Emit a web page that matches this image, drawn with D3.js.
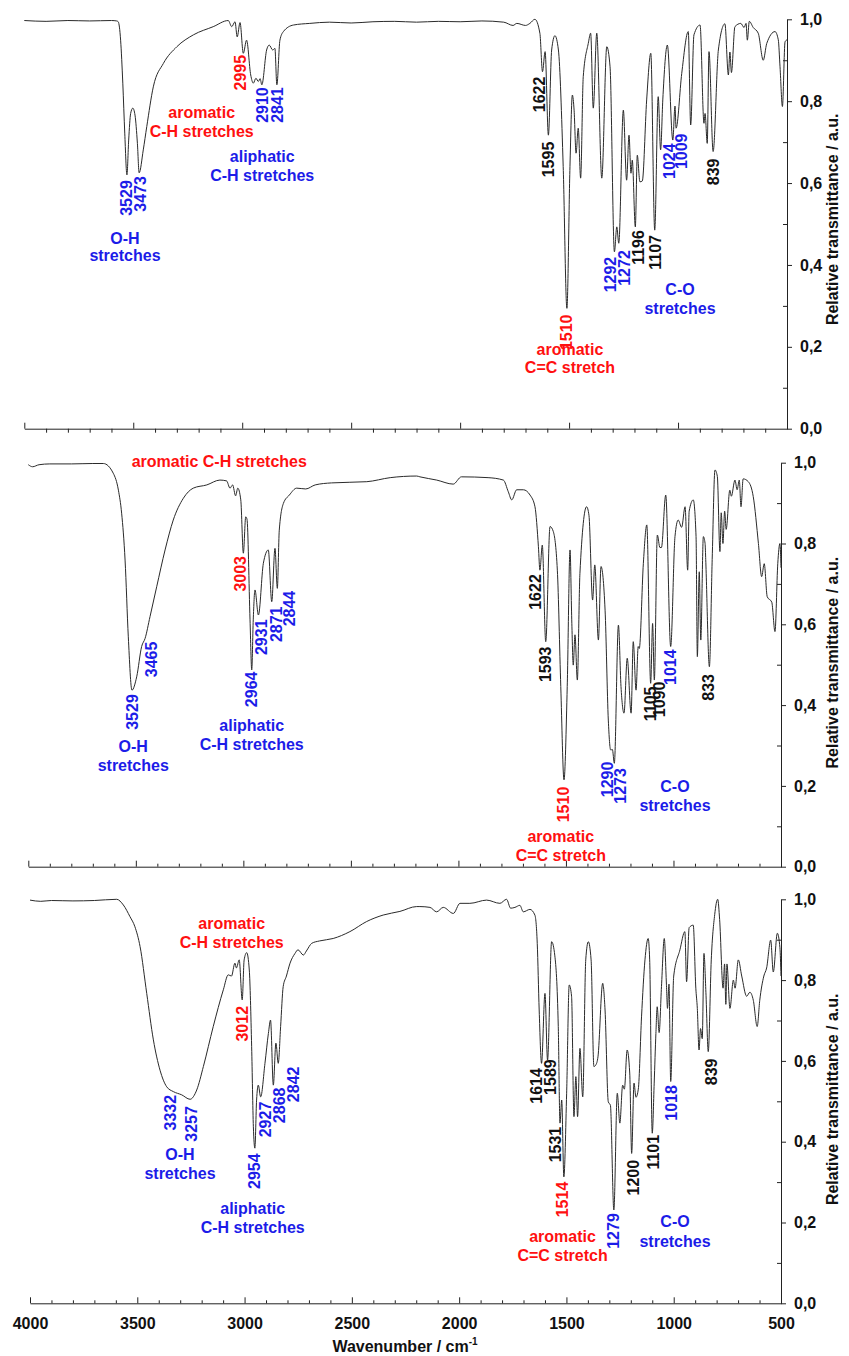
<!DOCTYPE html>
<html>
<head>
<meta charset="utf-8">
<title>IR spectra</title>
<style>
body { margin: 0; background: #fff; }
text { font-family: "Liberation Sans", Arial, sans-serif; font-weight: bold; }
</style>
</head>
<body>
<script src="https://d3js.org/d3.v7.min.js"></script>
<script>
var width = 849, height = 1356;

// spectra: [wavenumber cm-1, relative transmittance]
var spec1 = [
  [4000,0.997],[3900,0.995],[3800,0.997],[3700,0.996],[3600,0.997],[3576,0.996],[3569,0.994],[3558,0.949],
  [3548,0.844],[3539,0.722],[3529,0.620],[3521,0.705],[3512,0.770],[3502,0.783],[3492,0.766],[3481,0.697],
  [3473,0.625],[3454,0.681],[3438,0.738],[3408,0.835],[3362,0.892],[3300,0.933],[3224,0.962],[3133,0.982],
  [3064,0.997],[3048,0.982],[3033,0.994],[3023,0.957],[3010,0.992],[2995,0.917],[2980,0.949],[2961,0.864],
  [2949,0.844],[2937,0.856],[2926,0.848],[2918,0.855],[2910,0.840],[2888,0.925],[2876,0.937],[2860,0.925],
  [2850,0.929],[2841,0.840],[2827,0.949],[2811,0.970],[2765,0.986],[2690,0.990],[2600,0.993],[2500,0.991],
  [2400,0.994],[2300,0.995],[2200,0.993],[2100,0.995],[2000,0.994],[1900,0.996],[1800,0.993],[1757,0.985],
  [1740,0.990],[1700,0.985],[1680,0.990],[1657,1.000],[1634,0.966],[1622,0.872],[1610,0.921],[1595,0.717],
  [1580,0.925],[1565,0.960],[1549,0.925],[1527,0.640],[1510,0.294],[1496,0.640],[1485,0.815],[1477,0.778],
  [1468,0.673],[1458,0.734],[1447,0.612],[1435,0.860],[1412,0.941],[1401,0.966],[1389,0.783],[1373,0.966],
  [1350,0.612],[1327,0.933],[1312,0.884],[1292,0.432],[1281,0.493],[1272,0.453],[1251,0.778],[1236,0.607],
  [1225,0.717],[1216,0.624],[1210,0.656],[1196,0.493],[1187,0.668],[1175,0.603],[1164,0.605],[1144,0.803],
  [1125,0.917],[1107,0.485],[1091,0.811],[1080,0.681],[1070,0.803],[1049,0.937],[1024,0.705],[1014,0.788],
  [1009,0.734],[983,0.868],[953,0.970],[942,0.742],[927,0.962],[899,0.986],[881,0.746],[876,0.770],
  [866,0.697],[858,0.921],[839,0.677],[815,0.925],[785,0.989],[769,0.864],[762,0.920],[755,0.870],
  [739,0.982],[712,0.990],[697,0.980],[688,0.990],[682,0.949],[673,0.995],[655,0.980],[632,0.966],
  [609,0.900],[593,0.941],[555,0.970],[540,0.950],[532,0.884],[521,0.787],[509,0.945],[500,0.950]
];

var spec2 = [
  [4000,0.995],[3980,0.990],[3950,0.995],[3900,0.997],[3800,0.997],[3700,0.998],[3651,0.998],[3605,0.974],
  [3581,0.932],[3566,0.875],[3550,0.759],[3535,0.569],[3518,0.437],[3496,0.470],[3473,0.545],[3457,0.565],
  [3434,0.619],[3403,0.693],[3364,0.784],[3326,0.858],[3279,0.912],[3233,0.937],[3170,0.945],[3109,0.957],
  [3078,0.955],[3062,0.937],[3050,0.945],[3036,0.918],[3026,0.937],[3012,0.908],[3000,0.776],[2989,0.866],
  [2983,0.860],[2969,0.611],[2961,0.487],[2954,0.611],[2946,0.685],[2930,0.623],[2907,0.751],[2884,0.784],
  [2868,0.656],[2853,0.788],[2842,0.689],[2833,0.833],[2814,0.899],[2786,0.920],[2752,0.937],[2710,0.935],
  [2666,0.945],[2590,0.950],[2426,0.953],[2317,0.963],[2194,0.967],[2179,0.965],[2101,0.957],[2024,0.947],
  [1986,0.965],[1862,0.963],[1791,0.957],[1768,0.928],[1752,0.908],[1729,0.933],[1698,0.933],[1667,0.920],
  [1644,0.891],[1628,0.792],[1621,0.734],[1610,0.796],[1594,0.557],[1574,0.842],[1559,0.830],[1540,0.734],
  [1524,0.446],[1509,0.215],[1494,0.446],[1481,0.784],[1473,0.611],[1466,0.499],[1458,0.574],[1447,0.462],
  [1435,0.726],[1404,0.891],[1393,0.870],[1376,0.660],[1366,0.747],[1349,0.561],[1337,0.743],[1318,0.635],
  [1303,0.363],[1292,0.289],[1284,0.290],[1275,0.256],[1256,0.598],[1244,0.446],[1230,0.380],[1215,0.516],
  [1197,0.380],[1187,0.557],[1174,0.437],[1164,0.545],[1159,0.540],[1140,0.751],[1124,0.846],[1106,0.454],
  [1097,0.602],[1089,0.462],[1075,0.821],[1063,0.790],[1056,0.790],[1036,0.920],[1013,0.545],[993,0.817],
  [978,0.858],[962,0.840],[946,0.891],[934,0.734],[927,0.880],[908,0.908],[895,0.817],[889,0.520],
  [880,0.730],[873,0.561],[861,0.817],[853,0.800],[850,0.760],[833,0.495],[820,0.760],[807,0.982],
  [796,0.966],[784,0.780],[778,0.876],[770,0.800],[762,0.880],[755,0.835],[738,0.932],[731,0.917],
  [714,0.957],[704,0.933],[694,0.957],[686,0.891],[676,0.960],[652,0.953],[629,0.916],[605,0.800],
  [590,0.718],[578,0.750],[564,0.668],[543,0.655],[528,0.582],[515,0.750],[505,0.800],[500,0.740]
];

var spec3 = [
  [4000,0.998],[3950,0.995],[3900,0.997],[3800,0.996],[3700,0.997],[3596,1.000],[3565,0.986],[3534,0.957],
  [3511,0.932],[3487,0.883],[3456,0.767],[3425,0.652],[3394,0.577],[3363,0.536],[3332,0.524],[3293,0.516],
  [3254,0.505],[3223,0.528],[3192,0.586],[3146,0.685],[3099,0.776],[3076,0.813],[3061,0.810],[3045,0.842],
  [3038,0.830],[3025,0.850],[3011,0.751],[3002,0.850],[2990,0.868],[2978,0.825],[2967,0.635],[2959,0.437],
  [2952,0.384],[2944,0.503],[2936,0.540],[2925,0.511],[2905,0.594],[2889,0.668],[2879,0.701],[2866,0.540],
  [2854,0.644],[2843,0.594],[2832,0.685],[2820,0.784],[2805,0.810],[2788,0.842],[2765,0.866],[2751,0.875],
  [2726,0.862],[2712,0.872],[2687,0.891],[2650,0.897],[2587,0.903],[2509,0.920],[2431,0.945],[2354,0.961],
  [2276,0.970],[2198,0.982],[2183,0.982],[2136,0.980],[2105,0.969],[2074,0.980],[2027,0.965],[1996,0.990],
  [1950,0.990],[1872,0.998],[1810,0.990],[1779,1.000],[1760,0.978],[1740,0.980],[1717,0.985],[1701,0.969],
  [1670,0.975],[1647,0.961],[1636,0.891],[1627,0.726],[1616,0.594],[1600,0.767],[1588,0.602],[1569,0.895],
  [1554,0.860],[1538,0.685],[1530,0.446],[1522,0.503],[1512,0.313],[1499,0.520],[1487,0.788],[1476,0.760],
  [1465,0.462],[1456,0.561],[1448,0.462],[1437,0.631],[1424,0.511],[1410,0.850],[1398,0.895],[1385,0.850],
  [1372,0.586],[1363,0.590],[1353,0.610],[1331,0.792],[1320,0.726],[1305,0.499],[1295,0.490],[1279,0.231],
  [1263,0.520],[1251,0.446],[1238,0.540],[1230,0.530],[1217,0.627],[1205,0.570],[1196,0.371],[1185,0.545],
  [1176,0.510],[1165,0.530],[1150,0.709],[1134,0.850],[1119,0.903],[1112,0.850],[1100,0.421],[1091,0.545],
  [1083,0.668],[1077,0.734],[1068,0.670],[1057,0.784],[1044,0.903],[1034,0.790],[1029,0.730],[1022,0.790],
  [1014,0.549],[1000,0.810],[971,0.875],[948,0.920],[940,0.796],[928,0.930],[909,0.936],[897,0.780],
  [890,0.730],[882,0.627],[875,0.680],[867,0.655],[859,0.866],[850,0.770],[839,0.623],[825,0.850],
  [809,0.962],[795,1.000],[786,0.950],[770,0.780],[763,0.840],[757,0.740],[752,0.840],[738,0.730],
  [722,0.800],[714,0.780],[699,0.850],[683,0.810],[660,0.760],[645,0.770],[629,0.750],[611,0.685],
  [599,0.750],[580,0.810],[567,0.830],[548,0.899],[536,0.820],[517,0.916],[505,0.880],[500,0.810]
];

// peak labels: [text, wavenumber, transmittance at top of text, colour]
var peaks1 = [
  ["3529",3530,0.607,"b"],["3473",3466,0.617,"b"],["2995",3010,0.913,"r"],["2910",2908,0.834,"b"],
  ["2841",2837,0.834,"b"],["1622",1638,0.860,"k"],["1595",1595,0.701,"k"],["1510",1511,0.279,"r"],
  ["1292",1312,0.420,"b"],["1272",1248,0.436,"b"],["1196",1182,0.485,"k"],["1107",1106,0.473,"k"],
  ["1024",1040,0.697,"b"],["1009",983,0.721,"b"],["839",838,0.660,"k"]
];
var peaks2 = [
  ["3529",3516,0.427,"b"],["3465",3426,0.557,"b"],["3003",3012,0.769,"r"],["2964",2961,0.483,"b"],
  ["2931",2915,0.612,"b"],["2871",2848,0.644,"b"],["2844",2786,0.683,"b"],["1622",1644,0.724,"k"],
  ["1593",1597,0.545,"k"],["1510",1512,0.198,"r"],["1290",1308,0.260,"b"],["1273",1249,0.244,"b"],
  ["1105",1109,0.446,"k"],["1090",1066,0.458,"k"],["1014",1013,0.538,"b"],["833",836,0.477,"k"]
];
var peaks3 = [
  ["3012",3011,0.736,"r"],["3332",3348,0.516,"b"],["3257",3250,0.488,"b"],["2954",2952,0.371,"b"],
  ["2927",2902,0.499,"b"],["2868",2838,0.534,"b"],["2842",2773,0.586,"b"],["1614",1639,0.582,"k"],
  ["1589",1577,0.604,"k"],["1531",1553,0.437,"k"],["1514",1518,0.301,"r"],["1279",1279,0.223,"b"],
  ["1200",1189,0.355,"k"],["1101",1095,0.417,"k"],["1018",1010,0.540,"b"],["839",823,0.606,"k"]
];

// band assignments: [text, wavenumber of centre, transmittance at baseline, colour]
var bands1 = [
  ["aromatic",3186,0.758,"r"],["C-H stretches",3186,0.712,"r"],
  ["aliphatic",2908,0.651,"b"],["C-H stretches",2908,0.604,"b"],
  ["O-H",3538,0.452,"b"],["stretches",3538,0.410,"b"],
  ["C-O",991,0.327,"b"],["stretches",991,0.280,"b"],
  ["aromatic",1496,0.179,"r"],["C=C stretch",1496,0.135,"r"]
];
var bands2 = [
  ["aromatic C-H stretches",3112,0.989,"r"],
  ["O-H",3512,0.285,"b"],["stretches",3512,0.236,"b"],
  ["aliphatic",2961,0.335,"b"],["C-H stretches",2961,0.289,"b"],
  ["C-O",993,0.184,"b"],["stretches",993,0.137,"b"],
  ["aromatic",1524,0.060,"r"],["C=C stretch",1524,0.015,"r"]
];
var bands3 = [
  ["aromatic",3060,0.926,"r"],["C-H stretches",3060,0.879,"r"],
  ["O-H",3301,0.355,"b"],["stretches",3301,0.308,"b"],
  ["aliphatic",2962,0.220,"b"],["C-H stretches",2962,0.173,"b"],
  ["C-O",994,0.188,"b"],["stretches",994,0.140,"b"],
  ["aromatic",1518,0.151,"r"],["C=C stretch",1518,0.104,"r"]
];

var xMajor = [4000,3500,3000,2500,2000,1500,1000,500];
var xMinor = d3.range(3900,500,-100).filter(function(v){ return v % 500 !== 0; });
var yMajor = [0,0.2,0.4,0.6,0.8,1.0];
var yMinor = [0.1,0.3,0.5,0.7,0.9];

var colors = { k: "#111111", r: "#ff1010", b: "#1c1ce8" };

// the three stacked panels (screen geometry)
var panels = [
  { data: spec1, peaks: peaks1, bands: bands1, x0: 24.3, x1: 787, top: 19.3, bottom: 428.7, minorOut: true, xlabels: false },
  { data: spec2, peaks: peaks2, bands: bands2, x0: 28.3, x1: 781, top: 462.7, bottom: 866.7, minorOut: false, xlabels: false },
  { data: spec3, peaks: peaks3, bands: bands3, x0: 30, x1: 781, top: 899.3, bottom: 1303.3, minorOut: false, xlabels: true }
];

var svg = d3.select("body").append("svg")
  .attr("width", width)
  .attr("height", height);

var commaFmt = function(d){ return d3.format(".1f")(d).replace(".", ","); };

function styleAxis(g) {
  g.attr("font-family", null).attr("font-size", 16);
  g.selectAll("line, path").attr("stroke", "#222").attr("stroke-width", 1);
  g.selectAll("text").attr("fill", "#111");
}

panels.forEach(function(p) {
  var x = d3.scaleLinear().domain([4000, 500]).range([p.x0, p.x1]);
  var y = d3.scaleLinear().domain([0, 1]).range([p.bottom, p.top]);
  var g = svg.append("g");

  // x axis, major ticks pointing into the plot
  g.append("g")
    .attr("transform", "translate(0," + p.bottom + ")")
    .call(d3.axisBottom(x).tickValues(xMajor).tickSize(-6).tickSizeOuter(0).tickPadding(14)
      .tickFormat(p.xlabels ? d3.format("d") : ""))
    .call(styleAxis);

  g.append("g")
    .attr("transform", "translate(0," + p.bottom + ")")
    .call(d3.axisBottom(x).tickValues(xMinor).tickSize(p.minorOut ? 4 : -3).tickFormat(""))
    .call(function(a){ a.select(".domain").remove(); })
    .call(styleAxis);

  // right y axis
  g.append("g")
    .attr("transform", "translate(" + p.x1 + ",0)")
    .call(d3.axisRight(y).tickValues(yMajor).tickSize(5).tickSizeOuter(0).tickPadding(8).tickFormat(commaFmt))
    .call(styleAxis);

  g.append("g")
    .attr("transform", "translate(" + p.x1 + ",0)")
    .call(d3.axisRight(y).tickValues(yMinor).tickSize(-4).tickFormat(""))
    .call(function(a){ a.select(".domain").remove(); })
    .call(styleAxis);

  g.append("text")
    .attr("transform", "translate(832.7," + (p.top + 200) + ") rotate(-90)")
    .attr("text-anchor", "middle")
    .attr("dy", "0.35em")
    .attr("font-size", 16)
    .attr("fill", "#111")
    .text("Relative transmittance / a.u.");

  // spectrum
  var line = d3.line()
    .x(function(d){ return x(d[0]); })
    .y(function(d){ return y(d[1]); })
    .curve(d3.curveMonotoneX);

  g.append("path")
    .datum(p.data)
    .attr("d", line)
    .attr("fill", "none")
    .attr("stroke", "#2a2a2a")
    .attr("stroke-width", 1);

  // peak labels, vertical
  g.selectAll(".peak")
    .data(p.peaks)
    .enter().append("text")
    .attr("class", "peak")
    .attr("transform", function(d){ return "translate(" + x(d[1]) + "," + y(d[2]) + ") rotate(-90)"; })
    .attr("text-anchor", "end")
    .attr("dy", "0.35em")
    .attr("font-size", 16)
    .attr("fill", function(d){ return colors[d[3]]; })
    .text(function(d){ return d[0]; });

  // band assignments
  g.selectAll(".band")
    .data(p.bands)
    .enter().append("text")
    .attr("class", "band")
    .attr("x", function(d){ return x(d[1]); })
    .attr("y", function(d){ return y(d[2]); })
    .attr("text-anchor", "middle")
    .attr("font-size", 16)
    .attr("fill", function(d){ return colors[d[3]]; })
    .text(function(d){ return d[0]; });
});

// x axis title
var xt = svg.append("text")
  .attr("x", 405)
  .attr("y", 1352)
  .attr("text-anchor", "middle")
  .attr("font-size", 16)
  .attr("fill", "#111");
xt.append("tspan").text("Wavenumber / cm");
xt.append("tspan").attr("font-size", 10).attr("dy", -7).text("-1");
</script>
</body>
</html>
